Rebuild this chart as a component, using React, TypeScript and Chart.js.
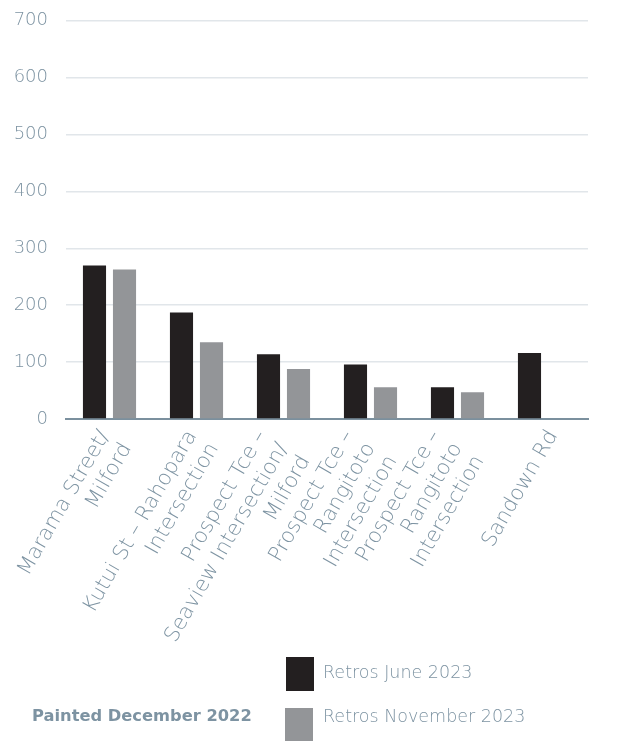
import React, { useEffect, useRef } from "react";
import { Chart, registerables } from "chart.js";

Chart.register(...registerables);

const categories: string[][] = [
  ["Marama Street/", "Milford"],
  ["Kutui St – Rahopara", "Intersection"],
  ["Prospect Tce –", "Seaview Intersection/", "Milford"],
  ["Prospect Tce –", "Rangitoto", "Intersection"],
  ["Prospect Tce –", "Rangitoto", "Intersection"],
  ["Sandown Rd"],
];
const retrosJune2023: (number | null)[] = [270, 187, 114, 96, 56, 116];
const retrosNovember2023: (number | null)[] = [263, 135, 88, 56, 47, null];
const seriesLabels = ["Retros June 2023", "Retros November 2023"];
const footnote = "Painted December 2022";
const yTicks = [0, 100, 200, 300, 400, 500, 600, 700];

const BLACK = "#231f20";
const GRAY = "#939598";
const TEXT = "#7d93a2";
const FONT = "'DejaVu Sans', sans-serif";

// The original centres each rotated label block on its category; Chart.js puts the
// first line at the tick, so the label axis uses a fine grid of slots and each label
// goes in the slot nearest to its category centre plus a shift set by its line count.
const SLOTS = 120;
const blockShift: Record<number, number> = { 1: 0.12, 2: -0.045, 3: -0.23 };
const labelSlots: string[][] = Array.from({ length: SLOTS + 1 }, () => [""]);
categories.forEach((c, i) => {
  const k = Math.round(((i + 0.5 + blockShift[c.length]) / categories.length) * SLOTS);
  labelSlots[k] = c;
});

export default function App() {
  const ref = useRef<HTMLCanvasElement | null>(null);
  useEffect(() => {
    if (!ref.current) return;
    const chart = new Chart(ref.current, {
      type: "bar",
      data: {
        labels: categories.map((c) => c.join(" ")),
        datasets: [
          { label: seriesLabels[0], data: retrosJune2023, backgroundColor: BLACK, xAxisID: "x" },
          { label: seriesLabels[1], data: retrosNovember2023, backgroundColor: GRAY, xAxisID: "x" },
        ],
      },
      options: {
        responsive: false,
        animation: false,
        devicePixelRatio: 1,
        categoryPercentage: 0.69,
        barPercentage: 0.77,
        layout: { padding: { top: 0, right: 38, left: 0, bottom: 0 } },
        plugins: { legend: { display: false }, tooltip: { enabled: false } },
        scales: {
          y: {
            min: yTicks[0],
            max: yTicks[yTicks.length - 1],
            afterBuildTicks: (s: any) => {
              s.ticks = yTicks.map((v) => ({ value: v }));
            },
            ticks: {
              color: TEXT,
              font: { family: FONT, size: 18, weight: "200" },
              padding: 18,
            },
            grid: { color: "#e1e6ea", drawTicks: false, lineWidth: 1.5 },
            border: { display: false },
            afterFit: (s: any) => {
              s.width = 66;
            },
          },
          x: {
            grid: { display: false, drawTicks: false },
            border: { color: "#7b909e", width: 2 },
            ticks: { display: false },
            afterFit: (s: any) => {
              s.height = 0;
            },
          },
          x2: {
            type: "category",
            position: "bottom",
            labels: labelSlots,
            offset: false,
            grid: { display: false, drawTicks: false },
            border: { display: false },
            ticks: {
              autoSkip: false,
              maxRotation: 60,
              minRotation: 60,
              color: TEXT,
              font: { family: FONT, size: 21, weight: "200", lineHeight: 1.2 },
              padding: 7,
            },
            afterFit: (s: any) => {
              s.height = 241;
              s.paddingLeft = 0;
              s.paddingRight = 0;
            },
          },
        },
      } as any,
    });
    return () => chart.destroy();
  }, []);

  const legendText: React.CSSProperties = {
    position: "absolute",
    left: 323,
    fontFamily: FONT,
    fontWeight: 200,
    fontSize: 17.5,
    color: TEXT,
    lineHeight: "20px",
    whiteSpace: "nowrap",
  };

  return (
    <div style={{ position: "fixed", left: 0, top: 0, width: 626, height: 741, overflow: "hidden", background: "#fff" }}>
      <canvas ref={ref} width={626} height={668} style={{ display: "block", marginTop: -8 }} />
      <div style={{ position: "absolute", left: 286, top: 657, width: 28, height: 34, background: BLACK }} />
      <div style={{ ...legendText, top: 662 }}>{seriesLabels[0]}</div>
      <div style={{ position: "absolute", left: 285, top: 708, width: 28, height: 34, background: GRAY }} />
      <div style={{ ...legendText, top: 706 }}>{seriesLabels[1]}</div>
      <div
        style={{
          position: "absolute",
          left: 32,
          top: 706,
          fontFamily: FONT,
          fontWeight: 700,
          fontSize: 16.3,
          color: TEXT,
          lineHeight: "20px",
          whiteSpace: "nowrap",
        }}
      >
        {footnote}
      </div>
    </div>
  );
}
